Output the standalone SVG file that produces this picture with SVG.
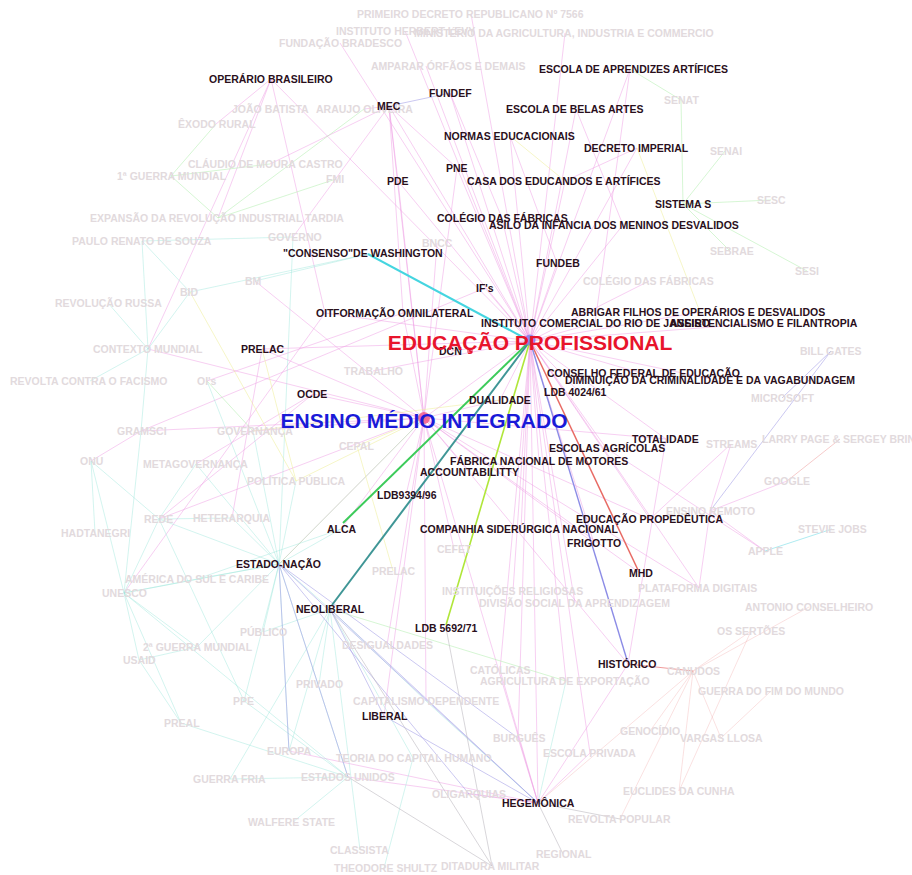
<svg xmlns="http://www.w3.org/2000/svg" width="912" height="875" viewBox="0 0 912 875">
<style>
text{font-family:"Liberation Sans",Arial,sans-serif;font-weight:bold;font-size:10.5px}
.d{fill:#2a0f1c}
.g{fill:#e2dadd}
line{fill:none;stroke-width:1}
.p{stroke:#f0a0e6;stroke-opacity:.5}
.c{stroke:#9ee6dc;stroke-opacity:.45}
.gr{stroke:#b4eeb0;stroke-opacity:.55}
.y{stroke:#eeee9a;stroke-opacity:.55}
.b{stroke:#a8a4e8;stroke-opacity:.6}
.k{stroke:#b8b4bc;stroke-opacity:.55}
.r{stroke:#f0a8a8;stroke-opacity:.35}
</style>
<rect width="912" height="875" fill="#ffffff"/>
<g id="connectors">
<line class="p" x1="530" y1="341" x2="389" y2="106"/>
<line class="p" x1="530" y1="341" x2="450" y2="93"/>
<line class="p" x1="530" y1="341" x2="510" y2="136"/>
<line class="p" x1="530" y1="341" x2="630" y2="69"/>
<line class="p" x1="530" y1="341" x2="576" y2="109"/>
<line class="p" x1="530" y1="341" x2="637" y2="148"/>
<line class="p" x1="530" y1="341" x2="457" y2="168"/>
<line class="p" x1="530" y1="341" x2="398" y2="181"/>
<line class="p" x1="530" y1="341" x2="565" y2="181"/>
<line class="p" x1="530" y1="341" x2="502" y2="218"/>
<line class="p" x1="530" y1="341" x2="623" y2="225"/>
<line class="p" x1="530" y1="341" x2="557" y2="263"/>
<line class="p" x1="530" y1="341" x2="485" y2="288"/>
<line class="p" x1="530" y1="341" x2="700" y2="312"/>
<line class="p" x1="530" y1="341" x2="595" y2="323"/>
<line class="p" x1="530" y1="341" x2="765" y2="323"/>
<line class="p" x1="530" y1="341" x2="641" y2="373"/>
<line class="p" x1="530" y1="341" x2="711" y2="379"/>
<line class="p" x1="530" y1="341" x2="579" y2="392"/>
<line class="p" x1="530" y1="341" x2="500" y2="400"/>
<line class="p" x1="530" y1="341" x2="666" y2="439"/>
<line class="p" x1="530" y1="341" x2="606" y2="448"/>
<line class="p" x1="530" y1="341" x2="539" y2="461"/>
<line class="p" x1="530" y1="341" x2="521" y2="529"/>
<line class="p" x1="530" y1="341" x2="650" y2="519"/>
<line class="p" x1="530" y1="341" x2="594" y2="543"/>
<line class="p" x1="530" y1="341" x2="451" y2="351"/>
<line class="p" x1="530" y1="341" x2="271" y2="79"/>
<line class="p" x1="530" y1="341" x2="325" y2="313"/>
<line class="p" x1="530" y1="341" x2="262" y2="349"/>
<line class="p" x1="530" y1="341" x2="538" y2="803"/>
<line class="p" x1="530" y1="341" x2="424" y2="418"/>
<line class="p" x1="530" y1="341" x2="426" y2="66"/>
<line class="p" x1="530" y1="341" x2="471" y2="14"/>
<line class="p" x1="530" y1="341" x2="565" y2="33"/>
<line class="p" x1="530" y1="341" x2="405" y2="31"/>
<line class="p" x1="530" y1="341" x2="649" y2="281"/>
<line class="p" x1="530" y1="341" x2="575" y2="603"/>
<line class="p" x1="530" y1="341" x2="513" y2="591"/>
<line class="p" x1="530" y1="341" x2="500" y2="670"/>
<line class="p" x1="530" y1="341" x2="566" y2="681"/>
<line class="p" x1="530" y1="341" x2="590" y2="753"/>
<line class="p" x1="530" y1="341" x2="518" y2="738"/>
<line class="p" x1="530" y1="341" x2="699" y2="588"/>
<line class="p" x1="530" y1="341" x2="373" y2="371"/>
<line class="p" x1="530" y1="341" x2="340" y2="43"/>
<line class="p" x1="424" y1="418" x2="313" y2="394"/>
<line class="p" x1="424" y1="418" x2="262" y2="349"/>
<line class="p" x1="424" y1="418" x2="403" y2="313"/>
<line class="p" x1="424" y1="418" x2="470" y2="472"/>
<line class="p" x1="424" y1="418" x2="406" y2="495"/>
<line class="p" x1="424" y1="418" x2="341" y2="529"/>
<line class="p" x1="424" y1="418" x2="279" y2="564"/>
<line class="p" x1="424" y1="418" x2="384" y2="716"/>
<line class="p" x1="424" y1="418" x2="500" y2="400"/>
<line class="p" x1="424" y1="418" x2="666" y2="439"/>
<line class="p" x1="424" y1="418" x2="538" y2="803"/>
<line class="p" x1="424" y1="418" x2="159" y2="519"/>
<line class="p" x1="424" y1="418" x2="141" y2="431"/>
<line class="p" x1="424" y1="418" x2="148" y2="349"/>
<line class="p" x1="424" y1="418" x2="255" y2="281"/>
<line class="p" x1="424" y1="418" x2="253" y2="431"/>
<line class="p" x1="424" y1="418" x2="594" y2="543"/>
<line class="p" x1="424" y1="418" x2="640" y2="573"/>
<line class="p" x1="424" y1="418" x2="628" y2="664"/>
<line class="p" x1="424" y1="418" x2="650" y2="519"/>
<line class="p" x1="424" y1="418" x2="454" y2="549"/>
<line class="p" x1="424" y1="418" x2="387" y2="645"/>
<line class="p" x1="424" y1="418" x2="426" y2="701"/>
<line class="p" x1="424" y1="418" x2="699" y2="588"/>
<line class="p" x1="424" y1="418" x2="437" y2="243"/>
<line class="p" x1="424" y1="418" x2="389" y2="106"/>
<line class="p" x1="424" y1="418" x2="398" y2="181"/>
<line class="p" x1="424" y1="418" x2="457" y2="168"/>
<line class="p" x1="271" y1="79" x2="216" y2="124"/>
<line class="p" x1="271" y1="79" x2="218" y2="218"/>
<line class="p" x1="271" y1="79" x2="325" y2="313"/>
<line class="p" x1="271" y1="79" x2="148" y2="349"/>
<line class="p" x1="389" y1="106" x2="398" y2="181"/>
<line class="p" x1="389" y1="106" x2="457" y2="168"/>
<line class="p" x1="389" y1="106" x2="270" y2="164"/>
<line class="p" x1="389" y1="106" x2="293" y2="237"/>
<line class="p" x1="389" y1="106" x2="403" y2="313"/>
<line class="p" x1="389" y1="106" x2="364" y2="109"/>
<line class="p" x1="450" y1="93" x2="502" y2="218"/>
<line class="p" x1="510" y1="136" x2="557" y2="263"/>
<line class="p" x1="630" y1="69" x2="595" y2="323"/>
<line class="p" x1="576" y1="109" x2="623" y2="225"/>
<line class="p" x1="637" y1="148" x2="565" y2="181"/>
<line class="p" x1="141" y1="431" x2="485" y2="288"/>
<line class="p" x1="91" y1="461" x2="141" y2="431"/>
<line class="p" x1="124" y1="593" x2="325" y2="313"/>
<line class="p" x1="159" y1="519" x2="313" y2="394"/>
<line class="p" x1="207" y1="381" x2="403" y2="313"/>
<line class="p" x1="538" y1="803" x2="628" y2="664"/>
<line class="p" x1="538" y1="803" x2="289" y2="751"/>
<line class="p" x1="538" y1="803" x2="348" y2="777"/>
<line class="p" x1="538" y1="803" x2="469" y2="794"/>
<line class="p" x1="538" y1="803" x2="518" y2="738"/>
<line class="p" x1="538" y1="803" x2="590" y2="753"/>
<line class="p" x1="538" y1="803" x2="500" y2="670"/>
<line class="p" x1="666" y1="439" x2="628" y2="664"/>
<line class="p" x1="731" y1="444" x2="710" y2="511"/>
<line class="p" x1="787" y1="481" x2="710" y2="511"/>
<line class="p" x1="765" y1="551" x2="710" y2="511"/>
<line class="p" x1="710" y1="511" x2="699" y2="588"/>
<line class="p" x1="650" y1="519" x2="731" y2="444"/>
<line class="p" x1="606" y1="448" x2="765" y2="551"/>
<line class="p" x1="313" y1="394" x2="196" y2="464"/>
<line class="p" x1="262" y1="349" x2="232" y2="518"/>
<line class="c" x1="293" y1="237" x2="279" y2="564"/>
<line class="c" x1="255" y1="281" x2="368" y2="254"/>
<line class="c" x1="190" y1="292" x2="368" y2="254"/>
<line class="c" x1="148" y1="349" x2="108" y2="303"/>
<line class="c" x1="148" y1="349" x2="142" y2="241"/>
<line class="c" x1="148" y1="349" x2="141" y2="431"/>
<line class="c" x1="148" y1="349" x2="90" y2="381"/>
<line class="c" x1="148" y1="349" x2="190" y2="292"/>
<line class="c" x1="142" y1="241" x2="190" y2="292"/>
<line class="c" x1="142" y1="241" x2="293" y2="237"/>
<line class="c" x1="91" y1="461" x2="124" y2="593"/>
<line class="c" x1="91" y1="461" x2="95" y2="533"/>
<line class="c" x1="91" y1="461" x2="159" y2="519"/>
<line class="c" x1="124" y1="593" x2="159" y2="519"/>
<line class="c" x1="124" y1="593" x2="197" y2="647"/>
<line class="c" x1="124" y1="593" x2="139" y2="660"/>
<line class="c" x1="124" y1="593" x2="197" y2="579"/>
<line class="c" x1="124" y1="593" x2="279" y2="564"/>
<line class="c" x1="124" y1="593" x2="181" y2="723"/>
<line class="c" x1="124" y1="593" x2="141" y2="431"/>
<line class="c" x1="124" y1="593" x2="348" y2="777"/>
<line class="c" x1="159" y1="519" x2="232" y2="518"/>
<line class="c" x1="159" y1="519" x2="279" y2="564"/>
<line class="c" x1="159" y1="519" x2="244" y2="701"/>
<line class="c" x1="196" y1="464" x2="279" y2="564"/>
<line class="c" x1="196" y1="464" x2="159" y2="519"/>
<line class="c" x1="232" y1="518" x2="279" y2="564"/>
<line class="c" x1="253" y1="431" x2="279" y2="564"/>
<line class="c" x1="296" y1="481" x2="279" y2="564"/>
<line class="c" x1="197" y1="579" x2="279" y2="564"/>
<line class="c" x1="263" y1="632" x2="279" y2="564"/>
<line class="c" x1="197" y1="647" x2="139" y2="660"/>
<line class="c" x1="197" y1="647" x2="279" y2="564"/>
<line class="c" x1="181" y1="723" x2="348" y2="777"/>
<line class="c" x1="181" y1="723" x2="139" y2="660"/>
<line class="c" x1="244" y1="701" x2="279" y2="564"/>
<line class="c" x1="244" y1="701" x2="348" y2="777"/>
<line class="c" x1="230" y1="779" x2="348" y2="777"/>
<line class="c" x1="230" y1="779" x2="330" y2="609"/>
<line class="c" x1="293" y1="822" x2="348" y2="777"/>
<line class="c" x1="360" y1="850" x2="330" y2="609"/>
<line class="c" x1="384" y1="868" x2="413" y2="758"/>
<line class="c" x1="330" y1="609" x2="413" y2="758"/>
<line class="c" x1="330" y1="609" x2="426" y2="701"/>
<line class="c" x1="330" y1="609" x2="319" y2="684"/>
<line class="c" x1="330" y1="609" x2="263" y2="632"/>
<line class="c" x1="330" y1="609" x2="289" y2="751"/>
<line class="c" x1="279" y1="564" x2="330" y2="609"/>
<line class="c" x1="279" y1="564" x2="289" y2="751"/>
<line class="c" x1="279" y1="564" x2="348" y2="777"/>
<line class="c" x1="341" y1="529" x2="279" y2="564"/>
<line class="c" x1="341" y1="529" x2="197" y2="579"/>
<line class="c" x1="207" y1="381" x2="279" y2="564"/>
<line class="c" x1="538" y1="803" x2="426" y2="701"/>
<line class="c" x1="538" y1="803" x2="566" y2="681"/>
<line class="c" x1="832" y1="529" x2="765" y2="551" style="stroke:#7adde8;stroke-opacity:.6"/>
<line class="gr" x1="683" y1="204" x2="681" y2="100"/>
<line class="gr" x1="683" y1="204" x2="725" y2="151"/>
<line class="gr" x1="683" y1="204" x2="771" y2="200"/>
<line class="gr" x1="683" y1="204" x2="730" y2="251"/>
<line class="gr" x1="683" y1="204" x2="807" y2="271"/>
<line class="gr" x1="630" y1="69" x2="681" y2="100"/>
<line class="gr" x1="171" y1="176" x2="218" y2="218"/>
<line class="gr" x1="171" y1="176" x2="270" y2="164"/>
<line class="gr" x1="216" y1="124" x2="171" y2="176"/>
<line class="gr" x1="218" y1="218" x2="364" y2="109"/>
<line class="gr" x1="218" y1="218" x2="336" y2="179"/>
<line class="gr" x1="207" y1="381" x2="253" y2="431"/>
<line class="gr" x1="279" y1="564" x2="424" y2="418"/>
<line class="gr" x1="330" y1="609" x2="566" y2="681"/>
<line class="y" x1="637" y1="148" x2="700" y2="312"/>
<line class="y" x1="424" y1="418" x2="357" y2="446"/>
<line class="y" x1="190" y1="292" x2="296" y2="481"/>
<line class="y" x1="262" y1="349" x2="296" y2="481"/>
<line class="y" x1="357" y1="446" x2="393" y2="571"/>
<line class="y" x1="510" y1="136" x2="565" y2="181"/>
<line class="y" x1="296" y1="481" x2="424" y2="418"/>
<line class="y" x1="253" y1="431" x2="500" y2="400"/>
<line class="b" x1="330" y1="609" x2="538" y2="803"/>
<line class="b" x1="330" y1="609" x2="384" y2="716"/>
<line class="b" x1="384" y1="716" x2="538" y2="803"/>
<line class="b" x1="279" y1="564" x2="289" y2="751"/>
<line class="b" x1="279" y1="564" x2="538" y2="803"/>
<line class="b" x1="279" y1="564" x2="518" y2="738"/>
<line class="b" x1="279" y1="564" x2="348" y2="777"/>
<line class="b" x1="279" y1="564" x2="469" y2="794"/>
<line class="b" x1="389" y1="106" x2="450" y2="93"/>
<line class="b" x1="831" y1="351" x2="710" y2="511"/>
<line class="b" x1="782" y1="398" x2="831" y2="351"/>
<line class="k" x1="348" y1="777" x2="492" y2="866"/>
<line class="k" x1="446" y1="628" x2="492" y2="866"/>
<line class="k" x1="538" y1="803" x2="563" y2="854"/>
<line class="k" x1="538" y1="803" x2="620" y2="819"/>
<line class="k" x1="330" y1="609" x2="492" y2="866"/>
<line x1="628" y1="664" x2="693" y2="671" style="stroke:#e87070;stroke-opacity:.7"/>
<line class="r" x1="840" y1="439" x2="787" y2="481" style="stroke-opacity:.6"/>
<line class="r" x1="809" y1="607" x2="693" y2="671"/>
<line class="r" x1="751" y1="631" x2="693" y2="671"/>
<line class="r" x1="721" y1="738" x2="693" y2="671"/>
<line class="r" x1="771" y1="691" x2="721" y2="738"/>
<line class="r" x1="679" y1="791" x2="693" y2="671"/>
<line class="r" x1="679" y1="791" x2="751" y2="631"/>
<line class="r" x1="650" y1="731" x2="693" y2="671"/>
<line class="r" x1="620" y1="819" x2="693" y2="671"/>
<line class="r" x1="538" y1="803" x2="693" y2="671"/>
<line x1="368" y1="254" x2="530" y2="341" style="stroke:#45d5e0;stroke-width:2"/>
<line x1="530" y1="341" x2="343" y2="523" style="stroke:#3ccb5a;stroke-width:2"/>
<line x1="530" y1="341" x2="332" y2="605" style="stroke:#3f9696;stroke-width:2"/>
<line x1="530" y1="341" x2="446" y2="625" style="stroke:#b0e63a;stroke-width:1.6"/>
<line x1="530" y1="341" x2="638" y2="570" style="stroke:#e86a64;stroke-width:1.5"/>
<line x1="530" y1="341" x2="627" y2="660" style="stroke:#8c8ce6;stroke-width:1.4"/>
</g>
<g id="gray-nodes">
<g id="g-primeiro"><text class="g" x="357" y="18">PRIMEIRO DECRETO REPUBLICANO Nº 7566</text></g>
<g id="g-herbert"><text class="g" x="336" y="35">INSTITUTO HERBERT LEVY</text></g>
<g id="g-ministerio"><text class="g" x="414" y="37">MINISTÉRIO DA AGRICULTURA, INDUSTRIA E COMMERCIO</text></g>
<g id="g-bradesco"><text class="g" x="279" y="47">FUNDAÇÃO BRADESCO</text></g>
<g id="g-amparar"><text class="g" x="371" y="70">AMPARAR ÓRFÃOS E DEMAIS</text></g>
<g id="g-joao"><text class="g" x="232" y="113">JOÃO BATISTA</text></g>
<g id="g-araujo"><text class="g" x="316" y="113">ARAUJO OLIVEIRA</text></g>
<g id="g-exodo"><text class="g" x="178" y="128">ÊXODO RURAL</text></g>
<g id="g-claudio"><text class="g" x="188" y="168">CLÁUDIO DE MOURA CASTRO</text></g>
<g id="g-fmi"><text class="g" x="326" y="183">FMI</text></g>
<g id="g-guerra1"><text class="g" x="117" y="180">1ª GUERRA MUNDIAL</text></g>
<g id="g-senat"><text class="g" x="664" y="104">SENAT</text></g>
<g id="g-senai"><text class="g" x="710" y="155">SENAI</text></g>
<g id="g-sesc"><text class="g" x="757" y="204">SESC</text></g>
<g id="g-expansao"><text class="g" x="90" y="222">EXPANSÃO DA REVOLUÇÃO INDUSTRIAL TARDIA</text></g>
<g id="g-paulo"><text class="g" x="72" y="245">PAULO RENATO DE SOUZA</text></g>
<g id="g-governo"><text class="g" x="268" y="241">GOVERNO</text></g>
<g id="g-bncc"><text class="g" x="422" y="247">BNCC</text></g>
<g id="g-bm"><text class="g" x="245" y="285">BM</text></g>
<g id="g-bid"><text class="g" x="180" y="296">BID</text></g>
<g id="g-russa"><text class="g" x="55" y="307">REVOLUÇÃO RUSSA</text></g>
<g id="g-contexto"><text class="g" x="93" y="353">CONTEXTO MUNDIAL</text></g>
<g id="g-revolta"><text class="g" x="10" y="385">REVOLTA CONTRA O FACISMO</text></g>
<g id="g-ois"><text class="g" x="197" y="385">OI's</text></g>
<g id="g-gramsci"><text class="g" x="117" y="435">GRAMSCI</text></g>
<g id="g-governanca"><text class="g" x="217" y="435">GOVERNANÇA</text></g>
<g id="g-trabalho"><text class="g" x="344" y="375">TRABALHO</text></g>
<g id="g-sebrae"><text class="g" x="710" y="255">SEBRAE</text></g>
<g id="g-sesi"><text class="g" x="795" y="275">SESI</text></g>
<g id="g-colegio2"><text class="g" x="583" y="285">COLÉGIO DAS FÁBRICAS</text></g>
<g id="g-bill"><text class="g" x="800" y="355">BILL GATES</text></g>
<g id="g-microsoft"><text class="g" x="751" y="402">MICROSOFT</text></g>
<g id="g-larry"><text class="g" x="762" y="443">LARRY PAGE &amp; SERGEY BRIN</text></g>
<g id="g-streams"><text class="g" x="706" y="448">STREAMS</text></g>
<g id="g-google"><text class="g" x="764" y="485">GOOGLE</text></g>
<g id="g-remoto"><text class="g" x="666" y="515">ENSINO REMOTO</text></g>
<g id="g-stevie"><text class="g" x="798" y="533">STEVIE JOBS</text></g>
<g id="g-apple"><text class="g" x="748" y="555">APPLE</text></g>
<g id="g-plataforma"><text class="g" x="638" y="592">PLATAFORMA DIGITAIS</text></g>
<g id="g-antonio"><text class="g" x="745" y="611">ANTONIO CONSELHEIRO</text></g>
<g id="g-sertoes"><text class="g" x="717" y="635">OS SERTÕES</text></g>
<g id="g-onu"><text class="g" x="80" y="465">ONU</text></g>
<g id="g-metagov"><text class="g" x="143" y="468">METAGOVERNANÇA</text></g>
<g id="g-politica"><text class="g" x="247" y="485">POLÍTICA PÚBLICA</text></g>
<g id="g-cepal"><text class="g" x="339" y="450">CEPAL</text></g>
<g id="g-rede"><text class="g" x="144" y="523">REDE</text></g>
<g id="g-heterarquia"><text class="g" x="193" y="522">HETERARQUIA</text></g>
<g id="g-hadtanegri"><text class="g" x="61" y="537">HADTANEGRI</text></g>
<g id="g-america"><text class="g" x="125" y="583">AMÉRICA DO SUL E CARIBE</text></g>
<g id="g-unesco"><text class="g" x="102" y="597">UNESCO</text></g>
<g id="g-publico"><text class="g" x="240" y="636">PÚBLICO</text></g>
<g id="g-guerra2"><text class="g" x="143" y="651">2ª GUERRA MUNDIAL</text></g>
<g id="g-usaid"><text class="g" x="123" y="664">USAID</text></g>
<g id="g-cefet"><text class="g" x="437" y="553">CEFET</text></g>
<g id="g-prelac2"><text class="g" x="372" y="575">PRELAC</text></g>
<g id="g-religiosas"><text class="g" x="442" y="595">INSTITUIÇÕES RELIGIOSAS</text></g>
<g id="g-divisao"><text class="g" x="479" y="607">DIVISÃO SOCIAL DA APRENDIZAGEM</text></g>
<g id="g-desigualdades"><text class="g" x="342" y="649">DESIGUALDADES</text></g>
<g id="g-privado"><text class="g" x="296" y="688">PRIVADO</text></g>
<g id="g-catolicas"><text class="g" x="470" y="674">CATÓLICAS</text></g>
<g id="g-agricultura"><text class="g" x="480" y="685">AGRICULTURA DE EXPORTAÇÃO</text></g>
<g id="g-canudos"><text class="g" x="667" y="675">CANUDOS</text></g>
<g id="g-fimdomundo"><text class="g" x="698" y="695">GUERRA DO FIM DO MUNDO</text></g>
<g id="g-ppe"><text class="g" x="233" y="705">PPE</text></g>
<g id="g-capitalismo"><text class="g" x="353" y="705">CAPITALISMO DEPENDENTE</text></g>
<g id="g-preal"><text class="g" x="164" y="727">PREAL</text></g>
<g id="g-burgues"><text class="g" x="493" y="742">BURGUÊS</text></g>
<g id="g-escprivada"><text class="g" x="543" y="757">ESCOLA PRIVADA</text></g>
<g id="g-genocidio"><text class="g" x="620" y="735">GENOCÍDIO</text></g>
<g id="g-vargas"><text class="g" x="680" y="742">VARGAS LLOSA</text></g>
<g id="g-europa"><text class="g" x="267" y="755">EUROPA</text></g>
<g id="g-teoria"><text class="g" x="336" y="762">TEORIA DO CAPITAL HUMANO</text></g>
<g id="g-eua"><text class="g" x="301" y="781">ESTADOS UNIDOS</text></g>
<g id="g-guerrafria"><text class="g" x="193" y="783">GUERRA FRIA</text></g>
<g id="g-oligarquias"><text class="g" x="432" y="798">OLIGARQUIAS</text></g>
<g id="g-euclides"><text class="g" x="623" y="795">EUCLIDES DA CUNHA</text></g>
<g id="g-revoltapop"><text class="g" x="568" y="823">REVOLTA POPULAR</text></g>
<g id="g-walfere"><text class="g" x="248" y="826">WALFERE STATE</text></g>
<g id="g-classista"><text class="g" x="330" y="854">CLASSISTA</text></g>
<g id="g-regional"><text class="g" x="536" y="858">REGIONAL</text></g>
<g id="g-theodore"><text class="g" x="334" y="872">THEODORE SHULTZ</text></g>
<g id="g-ditadura"><text class="g" x="441" y="870">DITADURA MILITAR</text></g>
</g>
<g id="dark-nodes">
<g id="n-operario"><text class="d" x="209" y="83">OPERÁRIO BRASILEIRO</text></g>
<g id="n-fundef"><text class="d" x="429" y="97">FUNDEF</text></g>
<g id="n-mec"><text class="d" x="377" y="110">MEC</text></g>
<g id="n-aprendizes"><text class="d" x="539" y="73">ESCOLA DE APRENDIZES ARTÍFICES</text></g>
<g id="n-belas"><text class="d" x="506" y="113">ESCOLA DE BELAS ARTES</text></g>
<g id="n-normas"><text class="d" x="444" y="140">NORMAS EDUCACIONAIS</text></g>
<g id="n-decreto"><text class="d" x="584" y="152">DECRETO IMPERIAL</text></g>
<g id="n-pne"><text class="d" x="446" y="172">PNE</text></g>
<g id="n-pde"><text class="d" x="387" y="185">PDE</text></g>
<g id="n-casa"><text class="d" x="467" y="185">CASA DOS EDUCANDOS E ARTÍFICES</text></g>
<g id="n-sistemas"><text class="d" x="655" y="208">SISTEMA S</text></g>
<g id="n-colegio"><text class="d" x="437" y="222">COLÉGIO DAS FÁBRICAS</text></g>
<g id="n-asilo"><text class="d" x="489" y="229">ASILO DA INFANCIA DOS MENINOS DESVALIDOS</text></g>
<g id="n-consenso"><text class="d" x="283" y="257">"CONSENSO"DE WASHINGTON</text></g>
<g id="n-fundeb"><text class="d" x="536" y="267">FUNDEB</text></g>
<g id="n-ifs"><text class="d" x="476" y="292">IF's</text></g>
<g id="n-oit"><text class="d" x="316" y="317">OIT</text></g>
<g id="n-formacao"><text class="d" x="333" y="317">FORMAÇÃO OMNILATERAL</text></g>
<g id="n-abrigar"><text class="d" x="571" y="316">ABRIGAR FILHOS DE OPERÁRIOS E DESVALIDOS</text></g>
<g id="n-instituto"><text class="d" x="481" y="327">INSTITUTO COMERCIAL DO RIO DE JANEIRO</text></g>
<g id="n-assist"><text class="d" x="670" y="327">ASSISTENCIALISMO E FILANTROPIA</text></g>
<g id="n-prelac"><text class="d" x="241" y="353">PRELAC</text></g>
<g id="n-dcn"><text class="d" x="439" y="355">DCN</text><circle cx="470" cy="351" r="3" fill="#f06080" fill-opacity=".8"/></g>
<g id="n-conselho"><text class="d" x="547" y="377">CONSELHO FEDERAL DE EDUCAÇÃO</text></g>
<g id="n-diminuicao"><text class="d" x="565" y="384">DIMINUIÇÃO DA CRIMINALIDADE E DA VAGABUNDAGEM</text></g>
<g id="n-ldb4024"><text class="d" x="544" y="396">LDB 4024/61</text></g>
<g id="n-ocde"><text class="d" x="297" y="398">OCDE</text></g>
<g id="n-dualidade"><text class="d" x="469" y="404">DUALIDADE</text></g>
<g id="n-totalidade"><text class="d" x="632" y="443">TOTALIDADE</text></g>
<g id="n-agricolas"><text class="d" x="549" y="452">ESCOLAS AGRÍCOLAS</text></g>
<g id="n-fabrica"><text class="d" x="450" y="465">FÁBRICA NACIONAL DE MOTORES</text></g>
<g id="n-account"><text class="d" x="420" y="476">ACCOUNTABILITTY</text></g>
<g id="n-ldb9394"><text class="d" x="377" y="499">LDB9394/96</text></g>
<g id="n-alca"><text class="d" x="327" y="533">ALCA</text></g>
<g id="n-propedeutica"><text class="d" x="576" y="523">EDUCAÇÃO PROPEDÊUTICA</text></g>
<g id="n-companhia"><text class="d" x="420" y="533">COMPANHIA SIDERÚRGICA NACIONAL</text></g>
<g id="n-frigotto"><text class="d" x="567" y="547">FRIGOTTO</text></g>
<g id="n-estado"><text class="d" x="236" y="568">ESTADO-NAÇÃO</text></g>
<g id="n-mhd"><text class="d" x="629" y="577">MHD</text></g>
<g id="n-neoliberal"><text class="d" x="296" y="613">NEOLIBERAL</text></g>
<g id="n-ldb5692"><text class="d" x="415" y="632">LDB 5692/71</text></g>
<g id="n-historico"><text class="d" x="598" y="668">HISTÓRICO</text></g>
<g id="n-liberal"><text class="d" x="362" y="720">LIBERAL</text></g>
<g id="n-hegemonica"><text class="d" x="502" y="807">HEGEMÔNICA</text></g>
</g>
<g id="hub-ep">
<circle cx="530" cy="340" r="5.5" fill="#8080ee" fill-opacity=".85"/>
<text x="530" y="350" text-anchor="middle" style="font-size:21px;fill:#e8142c">EDUCAÇÃO PROFISSIONAL</text>
</g>
<g id="hub-emi">
<circle cx="424" cy="418" r="6" fill="#f05a8a" fill-opacity=".85"/>
<text x="424" y="428" text-anchor="middle" style="font-size:21px;fill:#1a1ad8">ENSINO MÉDIO INTEGRADO</text>
</g>
</svg>
